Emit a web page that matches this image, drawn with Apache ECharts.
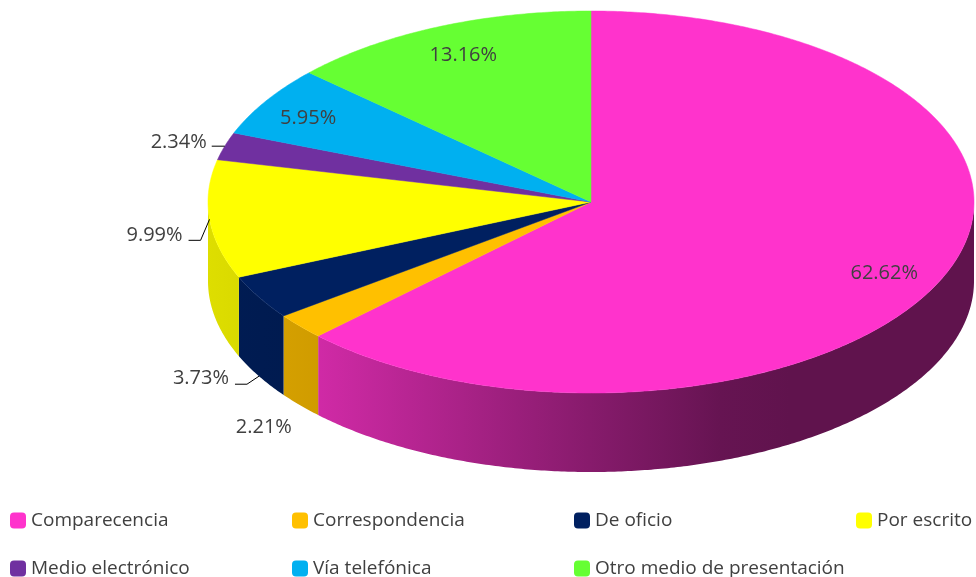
<!DOCTYPE html>
<html><head><meta charset="utf-8">
<script src="https://cdn.jsdelivr.net/npm/echarts@6/dist/echarts.min.js"></script>
<style>html,body{margin:0;padding:0;background:#fff}#c{width:976px;height:577px}</style>
</head><body><div id="c"></div>
<script>
// ---- data ----
const categories = ['Comparecencia','Correspondencia','De oficio','Por escrito','Medio electrónico','Vía telefónica','Otro medio de presentación'];
const values = [62.62, 2.21, 3.73, 9.99, 2.34, 5.95, 13.16];
const colors = ['#FF33CC','#FFC000','#002060','#FFFF00','#7030A0','#00B0F0','#66FF33'];

// ---- layout (not data) ----
const PIE = {cx: 591, cy: 202, rx: 383, ry: 191, depth: 79};
const labelLayout = [
  {mode: 'inside', r: 0.83, dx: 0, dy: 10},
  {mode: 'below', r: 1.125, dx: 0, dy: 6},
  {mode: 'leader', anchor: 'bottom', elbow: [-12, 8], run: 12, gap: 6, ty: -6},
  {mode: 'leader', anchor: 'top', elbow: [-9, 21], run: 12, gap: 6, ty: -5},
  {mode: 'leader', anchor: 'top', elbow: [0, 0], run: 13, gap: 5, ty: -4},
  {mode: 'inside', r: 0.83, dx: -13, dy: 0},
  {mode: 'inside', r: 0.83, dx: 0, dy: -2}
];
const shadeStops = [[207, 0.87], [318, 0.815], [570, 0.55], [720, 0.40], [790, 0.375], [975, 0.375]];
const legendCols = [10, 292, 574, 856];
const legendRows = [511, 559];
const FONT = 'Open Sans';
const TXT = '#404040';

const total = values.reduce((a, b) => a + b, 0);
const starts = [];
{ let acc = 0; values.forEach(v => { starts.push(acc / total * Math.PI * 2); acc += v; }); }

function pt(t, r, dy) {
  return [PIE.cx + PIE.rx * r * Math.sin(t), PIE.cy - PIE.ry * r * Math.cos(t) + (dy || 0)];
}
function arc(a1, a2, dy) {
  const n = Math.max(2, Math.ceil((a2 - a1) / (Math.PI / 360)));
  const pts = [];
  for (let k = 0; k <= n; k++) pts.push(pt(a1 + (a2 - a1) * k / n, 1, dy));
  return pts;
}
function shadeAt(x) {
  for (let i = 1; i < shadeStops.length; i++) {
    if (x <= shadeStops[i][0]) {
      const [x0, f0] = shadeStops[i - 1], [x1, f1] = shadeStops[i];
      return f0 + (f1 - f0) * (x - x0) / (x1 - x0);
    }
  }
  return shadeStops[shadeStops.length - 1][1];
}
function scaleColor(hex, f) {
  const n = parseInt(hex.slice(1), 16);
  const r = Math.round(((n >> 16) & 255) * f), g = Math.round(((n >> 8) & 255) * f), b = Math.round((n & 255) * f);
  return 'rgb(' + r + ',' + g + ',' + b + ')';
}
function sideGradient(hex) {
  const x0 = shadeStops[0][0], x1 = shadeStops[shadeStops.length - 1][0];
  return {
    type: 'linear', x: x0, y: 0, x2: x1, y2: 0, global: true,
    colorStops: shadeStops.map(s => ({offset: (s[0] - x0) / (x1 - x0), color: scaleColor(hex, s[1])}))
  };
}

function renderItem(params, api) {
  const i = api.value(0);
  const a1 = starts[i];
  const a2 = a1 + values[i] / total * Math.PI * 2;
  const children = [];
  // side face (front half only)
  const s1 = Math.max(a1, Math.PI / 2), s2 = Math.min(a2, Math.PI * 1.5);
  if (s2 > s1) {
    const pts = arc(s1, s2, 0).concat(arc(s1, s2, PIE.depth).reverse());
    children.push({type: 'polygon', z2: 1, shape: {points: pts}, style: {fill: sideGradient(colors[i]), stroke: null}});
  }
  // top face
  const topPts = [[PIE.cx, PIE.cy]].concat(arc(a1, a2, 0));
  children.push({type: 'polygon', z2: 5, shape: {points: topPts}, style: {fill: colors[i], stroke: colors[i], lineWidth: 0.5}});
  // label
  const L = labelLayout[i];
  const mid = (a1 + a2) / 2;
  const text = values[i].toFixed(2) + '%';
  const ts = {text: text, fill: TXT, fontSize: 20, fontFamily: FONT, verticalAlign: 'middle'};
  if (L.mode === 'inside' || L.mode === 'below') {
    const p = pt(mid, L.r, L.mode === 'below' ? PIE.depth : 0);
    children.push({type: 'text', z2: 10, style: Object.assign({}, ts, {x: p[0] + L.dx, y: p[1] + L.dy, align: 'center'})});
  } else {
    const a = pt(mid, 1, L.anchor === 'bottom' ? PIE.depth : 0);
    const e = [a[0] + L.elbow[0], a[1] + L.elbow[1]];
    const end = [e[0] - L.run, e[1]];
    children.push({type: 'polyline', z2: 10, shape: {points: [a, e, end]}, style: {stroke: '#000', lineWidth: 1, fill: null}});
    children.push({type: 'text', z2: 10, style: Object.assign({}, ts, {x: end[0] - L.gap, y: end[1] + L.ty, align: 'right'})});
  }
  return {type: 'group', children: children};
}

const chart = echarts.init(document.getElementById('c'), null, {renderer: 'canvas'});
chart.setOption({
  animation: false,
  backgroundColor: '#fff',
  legend: categories.map((name, i) => ({
    data: [{name: name, itemStyle: {color: colors[i]}}],
    left: legendCols[i % 4], top: legendRows[Math.floor(i / 4)],
    padding: 0, itemWidth: 16, itemHeight: 16, icon: 'roundRect', selectedMode: false,
    textStyle: {fontSize: 19, color: TXT, fontFamily: FONT}
  })),
  series: categories.map((name, i) => ({
    type: 'custom', name: name, coordinateSystem: 'none',
    itemStyle: {color: colors[i]},
    data: [[i]],
    renderItem: renderItem
  }))
});
</script>
</body></html>
